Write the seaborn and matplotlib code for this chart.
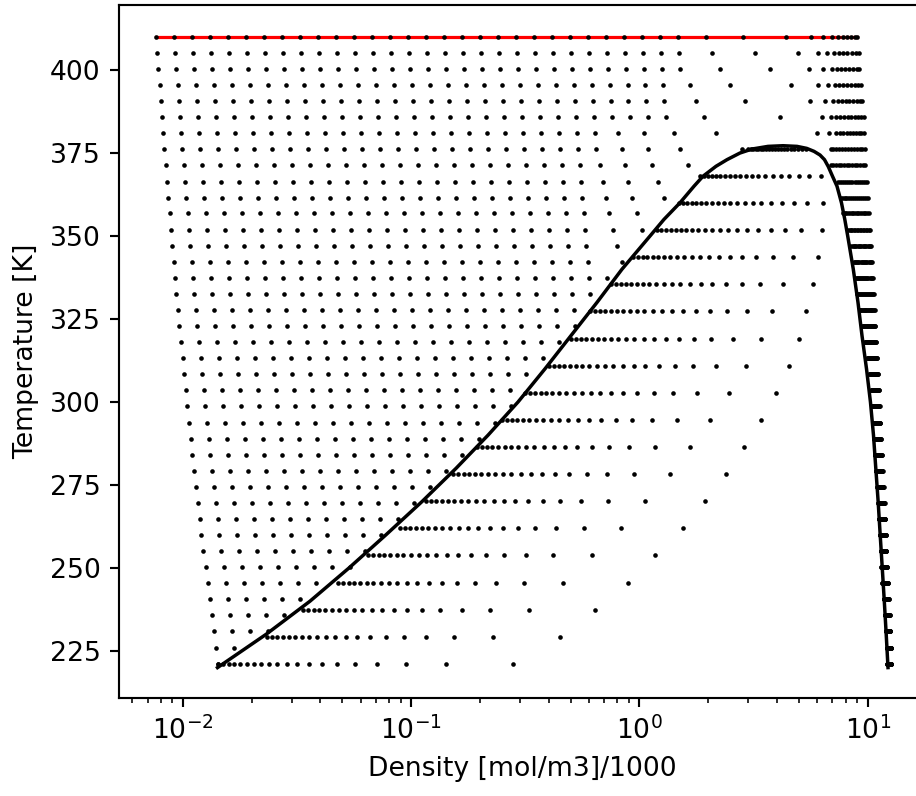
import numpy as np
import pandas as pd
import matplotlib
matplotlib.use("Agg")
import matplotlib.pyplot as plt
import seaborn as sns

# ---------------- data ----------------
# temperatures of the (T, log P) grid rows [K]
T_rows = [221.2, 226.0, 230.9, 235.7, 240.6, 245.4, 250.2, 255.1, 259.9, 264.8,
          269.6, 274.5, 279.3, 284.1, 289.0, 293.8, 298.7, 303.5, 308.3, 313.2,
          318.0, 322.9, 327.7, 332.5, 337.4, 342.2, 347.1, 351.9, 356.8, 361.6,
          366.4, 371.3, 376.1, 381.0, 385.8, 390.6, 395.5, 400.3, 405.2, 410.0]
# leftmost (lowest-pressure) density of every row
rho_left = [0.01429, 0.01396, 0.01368, 0.01341, 0.01310, 0.01284, 0.01259, 0.01228,
            0.01204, 0.01185, 0.01161, 0.01141, 0.01122, 0.01099, 0.01081, 0.01063,
            0.01045, 0.01029, 0.01011, 0.00998, 0.00978, 0.00964, 0.00952, 0.00936,
            0.00924, 0.00911, 0.00899, 0.00887, 0.00875, 0.00863, 0.00852, 0.00841,
            0.00829, 0.00821, 0.00810, 0.00799, 0.00791, 0.00780, 0.00773, 0.00760]
GRID_RATIO = 1.199      # density ratio between neighbouring low-pressure points
N_GRID = 42             # pressure points per row

# liquid bars (subcritical rows): first and last density
liq_start = [12.17, 12.09, 11.97, 11.85, 11.73, 11.57, 11.46, 11.38, 11.27, 11.15,
             11.09, 10.98, 10.82, 10.71, 10.65, 10.54, 10.45, 10.36, 10.15, 9.95,
             9.70, 9.46, 9.21, 8.99, 8.84, 8.67, 8.47, 8.19, 7.79, 7.60,
             7.40, 6.87, 6.87]
liq_end = [12.64, 12.64, 12.51, 12.47, 12.35, 12.26, 12.14, 12.06, 12.02, 11.94,
           11.86, 11.74, 11.62, 11.54, 11.42, 11.36, 11.28, 11.19, 11.09, 11.00,
           10.89, 10.80, 10.72, 10.62, 10.51, 10.43, 10.37, 10.27, 10.09, 10.02,
           9.92, 9.76, 9.76]

# rows whose high-density end departs from the regular spacing
tail_T = [342.2, 347.1, 351.9, 356.8, 361.6, 366.4, 371.3, 376.1,
          381.0, 385.8, 390.6, 395.5, 400.3, 405.2, 410.0]
tail_nreg = [24, 24, 24, 24, 24, 24, 24, 25, 25, 29, 29, 29, 30, 30, 30]
tail_rho = [
    [0.8355],
    [0.7945],
    [0.7630, 1.0223],
    [0.7376, 0.9721],
    [0.7134, 0.9299, 1.2806],
    [0.6943, 0.8932, 1.2013],
    [0.6714, 0.8640, 1.138, 1.636],
    [0.8355, 1.0928, 1.504, 2.804],
    [0.8074, 1.0464, 1.4119, 2.157, 6.009, 6.784, 7.256, 7.553, 7.810, 8.083,
     8.356, 8.612, 8.881, 9.124, 9.364, 9.624],
    [1.917, 4.125, 6.282, 6.880, 7.256, 7.553, 7.865, 8.166, 8.467, 8.762,
     9.058, 9.337, 9.577],
    [1.768, 2.899, 5.584, 6.494, 7.019, 7.380, 7.685, 8.002, 8.298, 8.638,
     8.941, 9.243, 9.432],
    [1.664, 2.491, 4.609, 6.070, 6.714, 7.184, 7.479, 7.810, 8.132, 8.441,
     8.762, 9.087, 9.337],
    [2.252, 3.729, 5.528, 6.385, 6.949, 7.307, 7.607, 7.944, 8.272, 8.612,
     8.941, 9.188],
    [2.084, 3.196, 4.932, 6.033, 6.648, 7.133, 7.479, 7.810, 8.132, 8.500,
     8.851, 9.105],
    [1.956, 2.850, 4.383, 5.640, 6.385, 6.949, 7.380, 7.762, 8.083, 8.441,
     8.788, 9.013],
]

# two-phase rows: temperature, saturated vapour / liquid density, qualities
T_2ph = [221.1, 229.3, 237.4, 245.6, 253.8, 261.9, 270.1, 278.3, 286.4, 294.6,
         302.8, 310.9, 319.1, 327.3, 335.4, 343.6, 351.8, 359.9, 368.1, 376.2]
rho_v_2ph = [0.01429, 0.02329, 0.03368, 0.04794, 0.06489, 0.08932, 0.1160, 0.1529,
             0.1936, 0.2490, 0.3151, 0.4000, 0.5000, 0.6100, 0.7503, 0.9393,
             1.193, 1.489, 1.841, 3.0]
rho_l_2ph = [12.15, 11.95, 11.78, 11.55, 11.30, 11.08, 10.85, 10.62, 10.45, 10.25,
             10.07, 9.80, 9.50, 9.15, 8.83, 8.48, 8.08, 7.70, 7.15, 5.6]
quality = [1.0, 0.95, 0.9, 0.85, 0.8, 0.75, 0.7, 0.65, 0.6, 0.55,
           0.5, 0.45, 0.4, 0.35, 0.3, 0.25, 0.2, 0.15, 0.1, 0.05]

# saturation curve: vapour branch (rising T) then liquid branch (falling T)
sat_T_vap = [220.0, 230.0, 240.0, 250.0, 260.0, 270.0, 280.0, 290.0, 300.0, 310.0,
             320.0, 330.0, 340.0, 350.0, 355.0, 360.0, 365.0, 368.0, 371.0, 373.0,
             375.0, 376.2, 377.0, 377.2]
sat_rho_vap = [0.01418, 0.02312, 0.03603, 0.05339, 0.07754, 0.1115, 0.1571, 0.2170,
               0.2937, 0.3856, 0.5012, 0.6514, 0.8382, 1.112, 1.280, 1.504, 1.733,
               1.897, 2.163, 2.417, 2.755, 3.110, 3.655, 4.253]
sat_T_liq = [377.0, 376.4, 375.5, 374.4, 373.0, 370.9, 368.0, 365.0, 360.0, 355.0,
             350.0, 340.0, 330.0, 320.0, 310.0, 300.0, 290.0, 280.0, 270.0, 260.0,
             250.0, 240.0, 230.0, 220.0]
sat_rho_liq = [4.897, 5.400, 5.814, 6.175, 6.461, 6.714, 7.005, 7.330, 7.668, 7.929,
               8.166, 8.638, 9.058, 9.432, 9.870, 10.27, 10.59, 10.84, 11.10, 11.33,
               11.57, 11.81, 12.04, 12.26]

# ---------------- build the point table ----------------
vapT = np.array(sat_T_vap)
vapL = np.log10(np.array(sat_rho_vap))

pts_rho, pts_T = [], []
top_row = None
for i, T in enumerate(T_rows):
    r0 = rho_left[i]
    if T in tail_T:
        j = tail_T.index(T)
        vap = [r0 * GRID_RATIO ** k for k in range(tail_nreg[j])] + tail_rho[j]
    else:
        rv = 10 ** np.interp(T, vapT, vapL)
        vap, k = [], 0
        while r0 * GRID_RATIO ** k <= rv:
            vap.append(r0 * GRID_RATIO ** k)
            k += 1
    row = list(vap)
    if i < len(liq_start):
        nl = N_GRID - len(vap)
        row += list(np.geomspace(liq_start[i], liq_end[i], nl))
    pts_rho += row
    pts_T += [T] * len(row)
    if i == len(T_rows) - 1:
        top_row = row

for T, rv, rl in zip(T_2ph, rho_v_2ph, rho_l_2ph):
    for q in quality:
        pts_rho.append(1.0 / (q / rv + (1 - q) / rl))
        pts_T.append(T)

df_pts = pd.DataFrame({"rho": pts_rho, "T": pts_T})
df_sat = pd.DataFrame({"rho": sat_rho_vap + sat_rho_liq, "T": sat_T_vap + sat_T_liq})
df_top = pd.DataFrame({"rho": [top_row[0], top_row[-1]], "T": [T_rows[-1]] * 2})

# ---------------- plot ----------------
DPI = 192
fig = plt.figure(figsize=(916 / DPI, 796 / DPI), dpi=DPI)
ax = fig.add_axes([0.1301, 0.1231, 0.8797, 0.8706])
ax.set_xscale("log")

sns.lineplot(data=df_top, x="rho", y="T", color="red", linewidth=1.2,
             sort=False, estimator=None, ax=ax, zorder=1)
sns.scatterplot(data=df_pts, x="rho", y="T", color="black", s=3.0,
                linewidth=0, ax=ax, zorder=3, legend=False)
sns.lineplot(data=df_sat, x="rho", y="T", color="black", linewidth=1.3,
             sort=False, estimator=None, ax=ax, zorder=2)

ax.set_xlim(0.00526, 17.8)
ax.set_ylim(210.84, 419.58)
ax.set_yticks(range(225, 401, 25))
ax.set_xlabel("Density [mol/m3]/1000")
ax.set_ylabel("Temperature [K]")

fig.savefig("out.png", dpi=DPI)
